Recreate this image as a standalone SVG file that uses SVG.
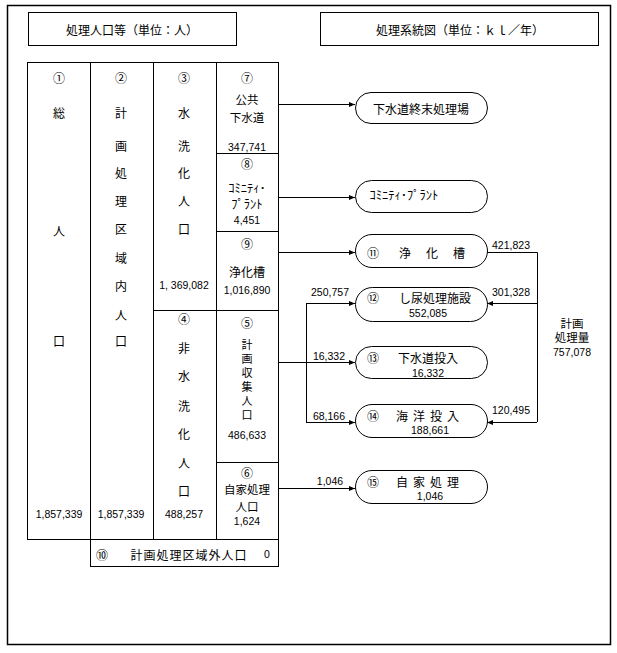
<svg xmlns="http://www.w3.org/2000/svg" width="617" height="653" viewBox="0 0 617 653">
<style>
text{font-family:"Noto Sans CJK JP","Liberation Sans",sans-serif;font-size:12px;fill:#000;text-anchor:middle;dominant-baseline:central}
.n{font-family:"Liberation Sans","Noto Sans CJK JP",sans-serif;font-size:10.5px}
.s{font-family:"Liberation Sans","Noto Sans CJK JP",sans-serif;font-size:11px}
.k{font-family:"Liberation Sans","Noto Sans CJK JP",sans-serif;font-size:12.5px}
.t{font-family:"Liberation Sans","Noto Sans CJK JP",sans-serif;font-size:11.5px}
.box{fill:#fff;stroke:#000;stroke-width:1}
.ln{fill:none;stroke:#000;stroke-width:1}
.pill{fill:#fff;stroke:#000;stroke-width:1}
</style>
<defs>
<marker id="ar" markerUnits="userSpaceOnUse" markerWidth="7" markerHeight="6" refX="6" refY="3" orient="auto">
<path d="M0,0.5 L6,3 L0,5.5 Z" fill="#000"/>
</marker>
</defs>
<rect x="0" y="0" width="617" height="653" fill="#fff"/>
<rect x="7.5" y="5.5" width="603" height="639" fill="none" stroke="#000" stroke-width="1.5"/>

<g id="header-left">
<rect class="box" x="28.5" y="12.5" width="208" height="33"/>
<text x="132" y="29">処理人口等（単位：人）</text>
</g>
<g id="header-right">
<rect class="box" x="320.5" y="12.5" width="278" height="33"/>
<text x="460" y="29">処理系統図（単位：ｋｌ／年）</text>
</g>

<g id="table">
<rect class="box" x="27.5" y="62.5" width="251" height="477"/>
<path class="ln" d="M90.5,62 V567 M153.5,62 V540 M216.5,62 V540 M216,153.5 H279 M216,231.5 H279 M153,310.5 H279 M216,462.5 H279 M90,566.5 H279 M278.5,540 V567"/>
</g>

<g id="col1">
<text x="59" y="77">①</text>
<text x="59" y="112">総</text>
<text x="59" y="230">人</text>
<text x="59" y="340">口</text>
<text class="n" x="59" y="514">1,857,339</text>
</g>
<g id="col2">
<text x="121" y="77">②</text>
<text x="121" y="112">計</text>
<text x="121" y="145">画</text>
<text x="121" y="172">処</text>
<text x="121" y="200">理</text>
<text x="121" y="228">区</text>
<text x="121" y="257">域</text>
<text x="121" y="285">内</text>
<text x="121" y="314">人</text>
<text x="121" y="340">口</text>
<text class="n" x="121" y="514">1,857,339</text>
</g>
<g id="col3">
<text x="184" y="77">③</text>
<text x="184" y="112">水</text>
<text x="184" y="145">洗</text>
<text x="184" y="172">化</text>
<text x="184" y="200">人</text>
<text x="184" y="228">口</text>
<text class="n" x="184" y="285">1, 369,082</text>
<text x="184" y="318">④</text>
<text x="184" y="347">非</text>
<text x="184" y="375">水</text>
<text x="184" y="405">洗</text>
<text x="184" y="433">化</text>
<text x="184" y="462">人</text>
<text x="184" y="490">口</text>
<text class="n" x="184" y="514">488,257</text>
</g>
<g id="col4">
<text x="247" y="77">⑦</text>
<text class="t" x="247" y="100">公共</text>
<text class="t" x="247" y="118">下水道</text>
<text class="n" x="247" y="147">347,741</text>
<text x="247" y="163">⑧</text>
<text class="k" x="247" y="189">ｺﾐﾆﾃｨ･</text>
<text class="k" x="247" y="205">ﾌﾟﾗﾝﾄ</text>
<text class="n" x="247" y="220">4,451</text>
<text x="247" y="243">⑨</text>
<text x="247" y="271">浄化槽</text>
<text class="n" x="247" y="290">1,016,890</text>
<text x="247" y="322">⑤</text>
<text class="s" x="247" y="345">計</text>
<text class="s" x="247" y="359">画</text>
<text class="s" x="247" y="373">収</text>
<text class="s" x="247" y="387">集</text>
<text class="s" x="247" y="401">人</text>
<text class="s" x="247" y="415">口</text>
<text class="n" x="247" y="435">486,633</text>
<text x="247" y="472">⑥</text>
<text class="t" x="247" y="490">自家処理</text>
<text class="t" x="247" y="507">人口</text>
<text class="n" x="247" y="521">1,624</text>
</g>
<g id="row10">
<text x="102" y="554">⑩</text>
<text x="189" y="554" style="letter-spacing:1px">計画処理区域外人口</text>
<text class="n" x="267" y="554">0</text>
</g>

<g id="connectors">
<path class="ln" d="M279,104.5 H355" marker-end="url(#ar)"/>
<path class="ln" d="M279,197.5 H355" marker-end="url(#ar)"/>
<path class="ln" d="M279,252.5 H355" marker-end="url(#ar)"/>
<path class="ln" d="M279,362.5 H355" marker-end="url(#ar)"/>
<path class="ln" d="M306.5,303 V422"/>
<path class="ln" d="M306,303.5 H355" marker-end="url(#ar)"/>
<path class="ln" d="M306,422.5 H355" marker-end="url(#ar)"/>
<path class="ln" d="M279,488.5 H355" marker-end="url(#ar)"/>
<path class="ln" d="M487,252.5 H537.5 V422"/>
<path class="ln" d="M537,303.5 H487" marker-end="url(#ar)"/>
<path class="ln" d="M537,422.5 H487" marker-end="url(#ar)"/>
<text class="n" x="511" y="245">421,823</text>
<text class="n" x="511" y="292">301,328</text>
<text class="n" x="511" y="410">120,495</text>
<text class="n" x="330" y="292">250,757</text>
<text class="n" x="329" y="356">16,332</text>
<text class="n" x="329" y="416">68,166</text>
<text class="n" x="330" y="481">1,046</text>
</g>

<g id="node-gesuido">
<rect class="pill" x="355.5" y="92.5" width="132" height="31" rx="15.5"/>
<text x="421" y="108">下水道終末処理場</text>
</g>
<g id="node-community">
<rect class="pill" x="355.5" y="180.5" width="132" height="32" rx="16"/>
<text class="k" x="404" y="196">ｺﾐﾆﾃｨ･ﾌﾟﾗﾝﾄ</text>
</g>
<g id="node-11">
<rect class="pill" x="355.5" y="234.5" width="132" height="33" rx="16.5"/>
<text x="373" y="252">⑪</text>
<text x="405" y="252">浄</text>
<text x="432" y="252">化</text>
<text x="459" y="252">槽</text>
</g>
<g id="node-12">
<rect class="pill" x="355.5" y="287.5" width="132" height="34" rx="17"/>
<text x="373" y="297">⑫</text>
<text x="435" y="297">し尿処理施設</text>
<text class="n" x="428" y="313">552,085</text>
</g>
<g id="node-13">
<rect class="pill" x="355.5" y="346.5" width="132" height="32" rx="16"/>
<text x="373" y="357">⑬</text>
<text x="428" y="357">下水道投入</text>
<text class="n" x="428" y="373">16,332</text>
</g>
<g id="node-14">
<rect class="pill" x="355.5" y="404.5" width="132" height="33" rx="16.5"/>
<text x="373" y="415">⑭</text>
<text x="430" y="415" style="letter-spacing:5px">海洋投入</text>
<text class="n" x="430" y="430">188,661</text>
</g>
<g id="node-15">
<rect class="pill" x="355.5" y="470.5" width="132" height="33" rx="16.5"/>
<text x="373" y="481">⑮</text>
<text x="430" y="481" style="letter-spacing:5px">自家処理</text>
<text class="n" x="430" y="496">1,046</text>
</g>
<g id="total">
<text class="t" x="572" y="324">計画</text>
<text class="t" x="572" y="338">処理量</text>
<text class="n" x="572" y="352">757,078</text>
</g>
</svg>
